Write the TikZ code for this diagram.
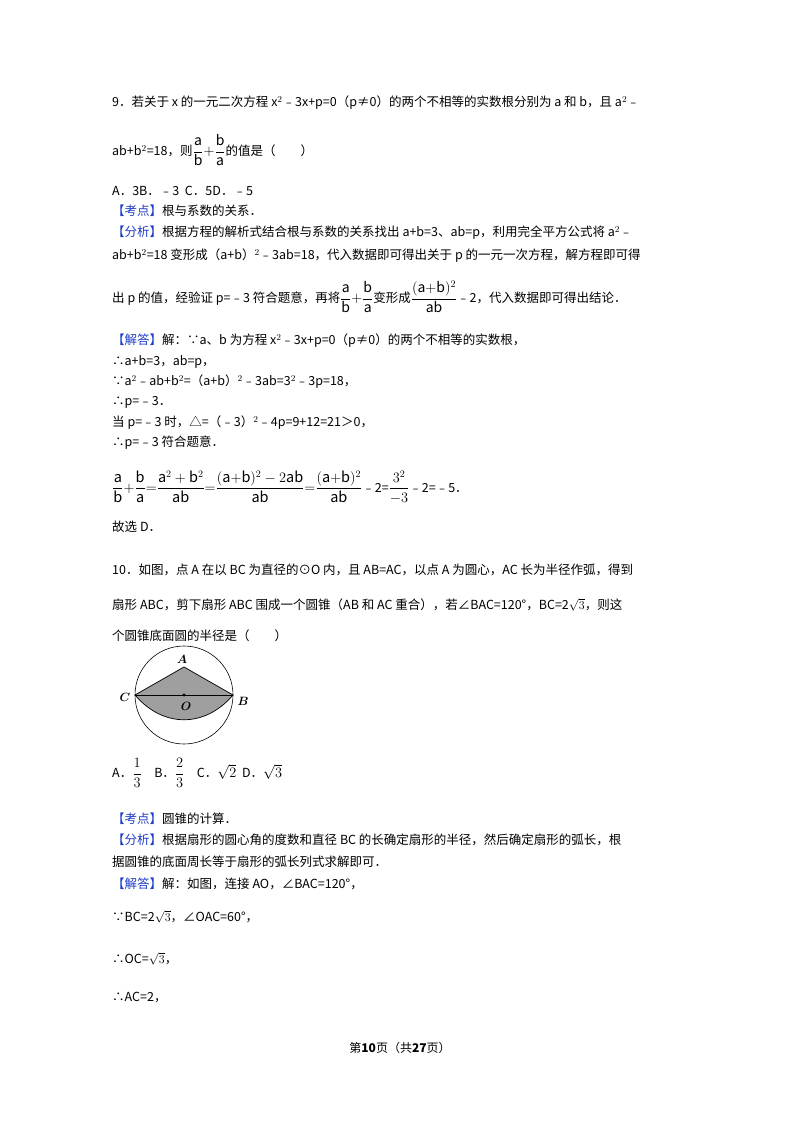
\documentclass[tikz,border=0pt]{standalone}
\usepackage{fontspec}
\setmainfont{Noto Sans CJK SC}
\usepackage{amsmath}
\definecolor{kb}{RGB}{30,60,200}
\newcommand{\lb}[1]{\textcolor{kb}{【#1】}}
\begin{document}
\begin{tikzpicture}[x=1pt,y=-1pt,t/.style={anchor=west,inner sep=0pt,font=\fontsize{12.5}{15}\selectfont},
 big/.style={anchor=west,inner sep=0pt,font=\fontsize{14}{16}\selectfont},
 lab/.style={font=\fontsize{13}{14}\selectfont}]
\useasboundingbox[fill=white] (0,0) rectangle (800,1132);
\node[t] (l1) at (112,103) {9．若关于 x 的一元二次方程 x$^2$﹣3x+p=0（p≠0）的两个不相等的实数根分别为 a 和 b，且 a$^2$﹣};
\node[t] (l2) at (112,150) {ab+b$^2$=18，则{\fontsize{14}{16}\selectfont$\dfrac{\mathrm a}{\mathrm b}{+}\dfrac{\mathrm b}{\mathrm a}$}的值是（\quad\quad）};
\node[t] (l3) at (112,191) {A．3B．﹣3\ \ C．5D．﹣5};
\node[t] (l4) at (112,211) {\lb{考点}根与系数的关系．};
\node[t] (l5) at (112,233) {\lb{分析}根据方程的解析式结合根与系数的关系找出 a+b=3、ab=p，利用完全平方公式将 a$^2$﹣};
\node[t] (l6) at (112,256) {ab+b$^2$=18 变形成（a+b）$^2$﹣3ab=18，代入数据即可得出关于 p 的一元一次方程，解方程即可得};
\node[t] (l7) at (112,297) {出 p 的值，经验证 p=﹣3 符合题意，再将{\fontsize{14}{16}\selectfont$\dfrac{\mathrm a}{\mathrm b}{+}\dfrac{\mathrm b}{\mathrm a}$}变形成{\fontsize{14}{16}\selectfont$\dfrac{(\mathrm{a{+}b})^2}{\mathrm{ab}}$}﹣2，代入数据即可得出结论．};
\node[t] (l8) at (112,341) {\lb{解答}解：∵a、b 为方程 x$^2$﹣3x+p=0（p≠0）的两个不相等的实数根，};
\node[t] (l9) at (112,362) {∴a+b=3，ab=p，};
\node[t] (l10) at (112,382) {∵a$^2$﹣ab+b$^2$=（a+b）$^2$﹣3ab=3$^2$﹣3p=18，};
\node[t] (l11) at (112,402) {∴p=﹣3．};
\node[t] (l12) at (112,423) {当 p=﹣3 时，△=（﹣3）$^2$﹣4p=9+12=21＞0，};
\node[t] (l13) at (112,443) {∴p=﹣3 符合题意．};
\node[t] (l14) at (112,487) {{\fontsize{14.5}{16}\selectfont$\dfrac{\mathrm a}{\mathrm b}{+}\dfrac{\mathrm b}{\mathrm a}{=}\dfrac{\mathrm a^2+\mathrm b^2}{\mathrm{ab}}{=}\dfrac{(\mathrm{a{+}b})^2-2\mathrm{ab}}{\mathrm{ab}}{=}\dfrac{(\mathrm{a{+}b})^2}{\mathrm{ab}}$}﹣2={\fontsize{14.5}{16}\selectfont$\dfrac{3^2}{-3}$}﹣2=﹣5．};
\node[t] (l15) at (112,527) {故选 D．};
\node[t] (l16) at (112,570) {10．如图，点 A 在以 BC 为直径的⊙O 内，且 AB=AC，以点 A 为圆心，AC 长为半径作弧，得到};
\node[t] (l17) at (112,605) {扇形 ABC，剪下扇形 ABC 围成一个圆锥（AB 和 AC 重合），若∠BAC=120°，BC=2$\sqrt{3}$，则这};
\node[t] (l18) at (112,636) {个圆锥底面圆的半径是（\quad\quad）};
% figure
\coordinate (O) at (184,695);
\coordinate (C) at (135,695);
\coordinate (B) at (233,695);
\coordinate (A) at (184,667);
\fill[gray!75] (C) -- (A) -- (B) .. controls (205,728) and (163,728) .. (C) -- cycle;
\draw[line width=0.7pt] (C) -- (A) -- (B) .. controls (205,728) and (163,728) .. (C);
\draw[line width=0.7pt] (C) -- (B);
\draw[line width=0.6pt] (O) circle (49);
\fill (O) circle (1.6);
\node[lab] (nA) at (182,659) {$\boldsymbol{A}$};
\node[lab] (nC) at (125,697) {$\boldsymbol{C}$};
\node[lab] (nB) at (243,701) {$\boldsymbol{B}$};
\node[lab] (nO) at (186,706) {$\boldsymbol{O}$};
\node[t] (l19) at (112,773) {A．{\fontsize{14}{16}\selectfont$\dfrac{1}{3}$}\quad B．{\fontsize{14}{16}\selectfont$\dfrac{2}{3}$}\quad C．{\fontsize{14}{16}\selectfont$\sqrt{2}$}\ \ D．{\fontsize{14}{16}\selectfont$\sqrt{3}$}};
\node[t] (l20) at (112,819) {\lb{考点}圆锥的计算．};
\node[t] (l21) at (112,840) {\lb{分析}根据扇形的圆心角的度数和直径 BC 的长确定扇形的半径，然后确定扇形的弧长，根};
\node[t] (l22) at (112,862) {据圆锥的底面周长等于扇形的弧长列式求解即可．};
\node[t] (l23) at (112,884) {\lb{解答}解：如图，连接 AO，∠BAC=120°，};
\node[t] (l24) at (112,917) {∵BC=2$\sqrt{3}$，∠OAC=60°，};
\node[t] (l25) at (112,959) {∴OC=$\sqrt{3}$，};
\node[t] (l26) at (112,997) {∴AC=2，};
\node[anchor=center,inner sep=0pt,font=\fontsize{12}{14}\selectfont] (ft) at (400,1048) {第\textbf{\large 10}页（共\textbf{\large 27}页）};
\end{tikzpicture}
\end{document}
